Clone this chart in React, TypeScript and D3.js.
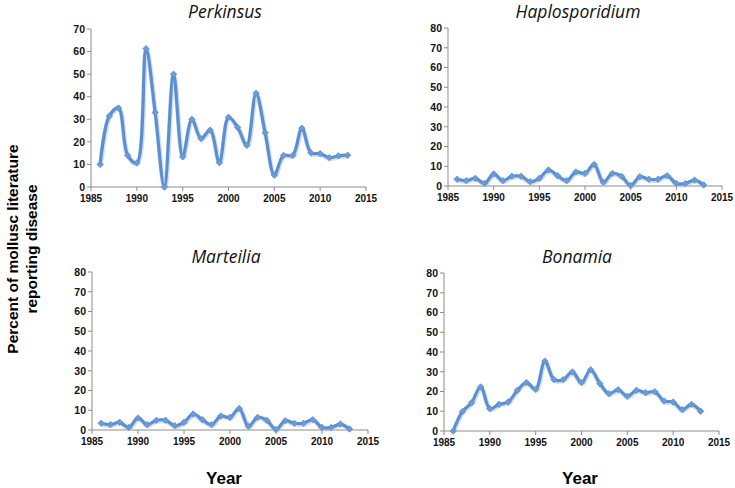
import React from "react";
import * as d3 from "d3";

const years = d3.range(1986, 2014);
const perkinsus = [10, 31.5, 35, 14, 10.7, 61.3, 33, 0, 50, 13.4, 30, 21.5, 25.2, 10.8, 30.9, 26.4, 18.5, 41.5, 24, 5.3, 14, 14, 26, 15.1, 14.8, 13, 13.8, 14.1];
const haplosporidium = [3.4, 2.7, 3.9, 1.3, 6.1, 2.7, 4.9, 4.9, 2.2, 3.9, 8.1, 5.2, 2.7, 7.1, 6.4, 10.9, 1.9, 6.4, 4.9, 0.3, 4.7, 3.4, 3.4, 5.2, 1.3, 1.3, 3.0, 0.5];
const marteilia = [3.4, 2.7, 3.9, 1.3, 6.1, 2.7, 4.9, 4.9, 2.2, 3.9, 8.1, 5.2, 2.7, 7.1, 6.4, 10.9, 1.9, 6.4, 4.9, 0.3, 4.7, 3.4, 3.4, 5.2, 1.3, 1.3, 3.0, 0.5];
const bonamia = [0, 9.8, 14.3, 22.3, 11.3, 13.5, 14.7, 20.6, 24.5, 21.1, 35.4, 26, 26, 29.9, 24.5, 31, 24, 18.9, 20.9, 17.6, 20.6, 19.4, 19.9, 15.2, 14.7, 10.8, 13.5, 10];
const xTicks = [1985, 1990, 1995, 2000, 2005, 2010, 2015];

const panels = [
  { title: "Perkinsus", values: perkinsus, yMax: 70, x0: 91, x1: 366, yb: 187, yt: 29, tx: 225, ty: 18 },
  { title: "Haplosporidium", values: haplosporidium, yMax: 80, x0: 448, x1: 722, yb: 186, yt: 28, tx: 578, ty: 18 },
  { title: "Marteilia", values: marteilia, yMax: 80, x0: 92, x1: 368, yb: 430, yt: 272, tx: 226, ty: 263 },
  { title: "Bonamia", values: bonamia, yMax: 80, x0: 444, x1: 719, yb: 431, yt: 273, tx: 577, ty: 263 },
];

const LINE = "#5b8fd0";
const AXIS = "#8c8c8c";
const tickFont = "'Liberation Sans', Arial, sans-serif";

function Panel({ p }: { p: (typeof panels)[number] }) {
  const x = d3.scaleLinear().domain([1985, 2015]).range([p.x0, p.x1]);
  const y = d3.scaleLinear().domain([0, p.yMax]).range([p.yb, p.yt]);
  const yTicks = d3.range(0, p.yMax + 1, 10);
  const pts = years.map((yr, i) => [x(yr), y(p.values[i])] as [number, number]);
  const line = d3.line().curve(d3.curveCatmullRom.alpha(0.5))(pts) || "";
  return (
    <g>
      <text x={p.tx} y={p.ty} textAnchor="middle" fontFamily="'Open Sans', sans-serif" fontStyle="italic" fontSize={17.5} fill="#111">
        {p.title}
      </text>
      <line x1={p.x0} x2={p.x0} y1={p.yt} y2={p.yb} stroke={AXIS} strokeWidth={1} />
      <line x1={p.x0} x2={p.x1} y1={p.yb} y2={p.yb} stroke={AXIS} strokeWidth={1} />
      {yTicks.map((t) => (
        <g key={"y" + t}>
          <line x1={p.x0 - 4} x2={p.x0} y1={y(t)} y2={y(t)} stroke={AXIS} />
          <text x={p.x0 - 6} y={y(t)} dy="0.36em" textAnchor="end" fontFamily={tickFont} fontWeight="bold" fontSize={10.5} fill="#111">
            {t}
          </text>
        </g>
      ))}
      {xTicks.map((t) => (
        <g key={"x" + t}>
          <line x1={x(t)} x2={x(t)} y1={p.yb} y2={p.yb + 4} stroke={AXIS} />
          <text x={x(t)} y={p.yb + 15} textAnchor="middle" fontFamily={tickFont} fontWeight="bold" fontSize={10} fill="#111">
            {t}
          </text>
        </g>
      ))}
      <path d={line} fill="none" stroke="#b7cdea" strokeWidth={5} strokeOpacity={0.6} transform="translate(0.5,1)" />
      <path d={line} fill="none" stroke={LINE} strokeWidth={3.2} strokeLinejoin="round" />
      {pts.map(([px, py], i) => (
        <path key={i} d={`M${px},${py - 3.2}L${px + 3.2},${py}L${px},${py + 3.2}L${px - 3.2},${py}Z`} fill="#6d9bd6" stroke={LINE} strokeWidth={0.8} />
      ))}
    </g>
  );
}

export default function App() {
  return (
    <div style={{ position: "absolute", left: 0, top: 0 }}>
      <svg width={735} height={488} style={{ display: "block", background: "#fff" }}>
        {panels.map((p) => (
          <Panel key={p.title} p={p} />
        ))}
        <text x={224} y={484} textAnchor="middle" fontFamily={tickFont} fontWeight="bold" fontSize={17}>Year</text>
        <text x={580} y={484} textAnchor="middle" fontFamily={tickFont} fontWeight="bold" fontSize={17}>Year</text>
        <g transform="translate(0,249) rotate(-90)">
          <text x={0} y={18} textAnchor="middle" fontFamily={tickFont} fontWeight="bold" fontSize={15.5}>Percent of mollusc literature</text>
          <text x={0} y={37} textAnchor="middle" fontFamily={tickFont} fontWeight="bold" fontSize={15.5}>reporting disease</text>
        </g>
      </svg>
    </div>
  );
}
